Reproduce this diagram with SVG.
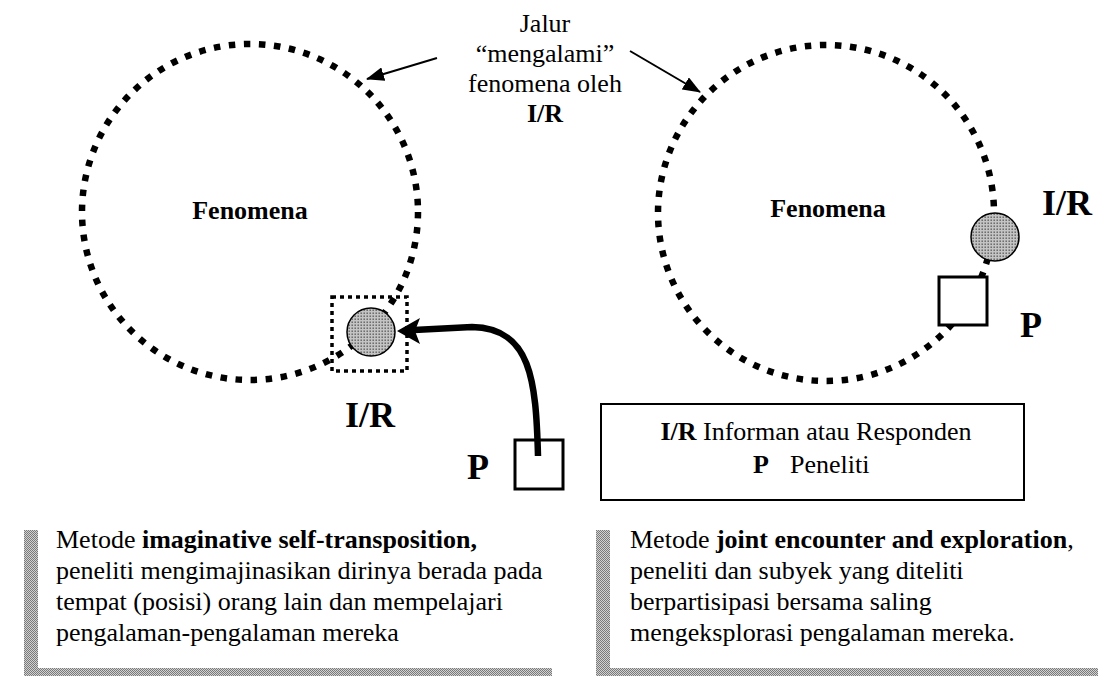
<svg xmlns="http://www.w3.org/2000/svg" width="1098" height="678" viewBox="0 0 1098 678">
  <defs>
    <pattern id="dots" width="3" height="3" patternUnits="userSpaceOnUse">
      <rect width="3" height="3" fill="#c4c4c4"/>
      <rect x="0.5" y="0.5" width="1.4" height="1.4" fill="#5a5a5a"/>
    </pattern>
    <pattern id="stip" width="2" height="2" patternUnits="userSpaceOnUse">
      <rect width="2" height="2" fill="#d2d2d2"/>
      <rect width="1" height="1" fill="#7a7a7a"/>
      <rect x="1" y="1" width="1" height="1" fill="#7a7a7a"/>
    </pattern>
    <marker id="ah" markerWidth="18" markerHeight="14" refX="17" refY="7" orient="auto" markerUnits="userSpaceOnUse">
      <path d="M0,0 L18,7 L0,14 Z" fill="#000"/>
    </marker>
    <style>
      text { font-family: "Liberation Serif", "Times New Roman", serif; fill: #000; }
      .t { font-size: 26px; }
      .b { font-weight: bold; }
      .big { font-size: 36px; font-weight: bold; }
      .path { fill: none; stroke: #000; stroke-width: 6.5; stroke-dasharray: 6.5 8.6; }
      .ir { fill: url(#dots); stroke: #000; stroke-width: 1.5; }
      .box { fill: #fff; stroke: #000; stroke-width: 3; }
      .thin { fill: none; stroke: #000; stroke-width: 2; }
      .bar { fill: url(#stip); }
    </style>
  </defs>

  <g id="phenomenon-left">
    <circle class="path" cx="250" cy="212" r="168"/>
    <text class="t b" x="250" y="219" text-anchor="middle">Fenomena</text>
  </g>

  <g id="phenomenon-right">
    <circle class="path" cx="826" cy="213" r="168"/>
    <text class="t b" x="828" y="217" text-anchor="middle">Fenomena</text>
  </g>

  <g id="path-label">
    <text class="t" x="545" y="32" text-anchor="middle">Jalur</text>
    <text class="t" x="545" y="62" text-anchor="middle">“mengalami”</text>
    <text class="t" x="545" y="92" text-anchor="middle">fenomena oleh</text>
    <text class="t b" x="545" y="122" text-anchor="middle">I/R</text>
  </g>

  <g id="ir-left">
    <rect x="332" y="297" width="75" height="74" fill="none" stroke="#000" stroke-width="3.5" stroke-dasharray="4 4"/>
    <circle class="ir" cx="371" cy="332" r="24"/>
    <text class="big" x="345" y="427">I/R</text>
  </g>

  <g id="p-left">
    <rect class="box" x="515" y="440" width="48" height="49" fill="none"/>
    <text class="big" x="467" y="479">P</text>
  </g>

  <g id="ir-right">
    <circle class="ir" cx="995" cy="237" r="24"/>
    <text class="big" x="1042" y="215">I/R</text>
  </g>

  <g id="p-right">
    <rect class="box" x="939" y="277" width="48" height="48"/>
    <text class="big" x="1020" y="337">P</text>
  </g>

  <g id="connectors">
    <line class="thin" x1="437" y1="58" x2="367" y2="79" marker-end="url(#ah)"/>
    <line class="thin" x1="630" y1="51" x2="700" y2="92" marker-end="url(#ah)"/>
    <path d="M 538 456 C 536 380, 531 328, 472 327 L 414 330" fill="none" stroke="#000" stroke-width="6.5"/>
    <polygon points="397,331 420,318 415,331 420,344" fill="#000"/>
  </g>

  <g id="legend">
    <rect x="601" y="404" width="423" height="96" fill="#fff" stroke="#000" stroke-width="2"/>
    <text class="t" x="816" y="440" text-anchor="middle"><tspan class="b">I/R</tspan> Informan atau Responden</text>
    <text class="t" x="753" y="473"><tspan class="b">P</tspan><tspan x="790">Peneliti</tspan></text>
  </g>

  <g id="method-left">
    <rect class="bar" x="24" y="530" width="14" height="146"/>
    <rect class="bar" x="24" y="668" width="528" height="8"/>
    <text class="t" x="56" y="548">Metode <tspan class="b">imaginative self-transposition,</tspan></text>
    <text class="t" x="56" y="579">peneliti mengimajinasikan dirinya berada pada</text>
    <text class="t" x="56" y="610">tempat (posisi) orang lain dan mempelajari</text>
    <text class="t" x="56" y="641">pengalaman-pengalaman mereka</text>
  </g>

  <g id="method-right">
    <rect class="bar" x="596" y="530" width="14" height="146"/>
    <rect class="bar" x="596" y="668" width="502" height="8"/>
    <text class="t" x="630" y="548">Metode <tspan class="b">joint encounter and exploration</tspan>,</text>
    <text class="t" x="630" y="579">peneliti dan subyek yang diteliti</text>
    <text class="t" x="630" y="610">berpartisipasi bersama saling</text>
    <text class="t" x="630" y="641">mengeksplorasi pengalaman mereka.</text>
  </g>
</svg>
